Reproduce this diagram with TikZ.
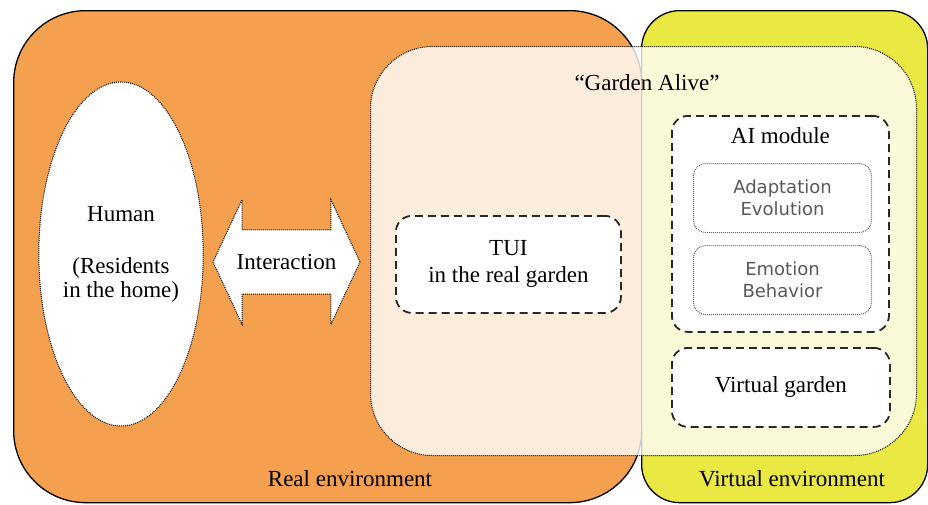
\documentclass[tikz,border=0pt]{standalone}
\usepackage{fontspec}
\setmainfont{Liberation Serif}
\newfontfamily\modfont{DejaVu Sans}
\usepackage{tikz}
\usetikzlibrary{positioning,shapes.geometric,shapes.arrows}
\definecolor{realorange}{RGB}{244,160,78}
\definecolor{virtyellow}{RGB}{234,232,66}
\definecolor{dashgray}{RGB}{40,40,40}

\begin{document}
\begin{tikzpicture}[x=1pt, y=-1pt,
	env/.style={rectangle, draw=black, line width=1.3pt, anchor=north west, inner sep=0pt},
	dots/.style={line width=1pt, dash pattern=on 1pt off 1pt},
	alive/.style={rectangle, draw=black, dots, rounded corners=62pt,
		fill=white, fill opacity=0.8, anchor=north west, inner sep=0pt},
	part/.style={rectangle, draw=dashgray, line width=1.8pt, dash pattern=on 8pt off 5pt,
		rounded corners=16pt, fill=white, anchor=north west, inner sep=0pt, txt},
	sub/.style={rectangle, draw=gray!80!black, dots, rounded corners=12pt,
		anchor=north west, inner sep=0pt, subtxt},
	txt/.style={font=\fontsize{23}{27}\selectfont, align=center},
	subtxt/.style={font=\modfont\fontsize{18}{22}\selectfont, text=gray!70!black, align=center}
	]
	\useasboundingbox (0,0) rectangle (928,504);
	% environments
	\node (real) [env, fill=realorange, rounded corners=72pt,
		minimum width=628pt, minimum height=492pt] at (13,10) {};
	\node (virtual) [env, fill=virtyellow, rounded corners=38pt,
		minimum width=286pt, minimum height=492pt] at (641,10) {};
	\node (alive) [alive, minimum width=546pt, minimum height=409pt] at (370,46) {};
	\node (realtxt) [txt] at (350,479) {Real environment};
	\node (virtualtxt) [txt] at (792,479) {Virtual environment};
	\node (alivetxt) [txt] at (647,83) {“Garden Alive”};
	% human and interaction
	\node (human) [ellipse, draw, dots, fill=white, inner sep=0pt,
		minimum width=160pt, minimum height=344pt, txt, font=\fontsize{23}{24}\selectfont]
		at (121,254) {Human\\[28pt](Residents\\in the home)};
	\node (inter) [double arrow, draw, dots, fill=white, txt,
		double arrow head extend=30pt, double arrow tip angle=130,
		minimum height=147pt, inner xsep=0pt, inner ysep=24pt] at (286.5,262) {Interaction};
	% garden parts
	\node (tui) [part, minimum width=225pt, minimum height=97pt] at (395,215)
		{TUI\\in the real garden};
	\node (aimod) [part, minimum width=217pt, minimum height=216pt] at (671,115) {};
	\node (aitxt) [txt, below=12pt of aimod.north, inner sep=0pt] {AI module};
	\node (adapt) [sub, minimum width=178pt, minimum height=69pt] at (693,163)
		{Adaptation\\Evolution};
	\node (emot) [sub, minimum width=178pt, minimum height=69pt] at (693,245)
		{Emotion\\Behavior};
	\node (vgarden) [part, minimum width=218pt, minimum height=79pt] at (671,347)
		{Virtual garden};
\end{tikzpicture}
\end{document}
